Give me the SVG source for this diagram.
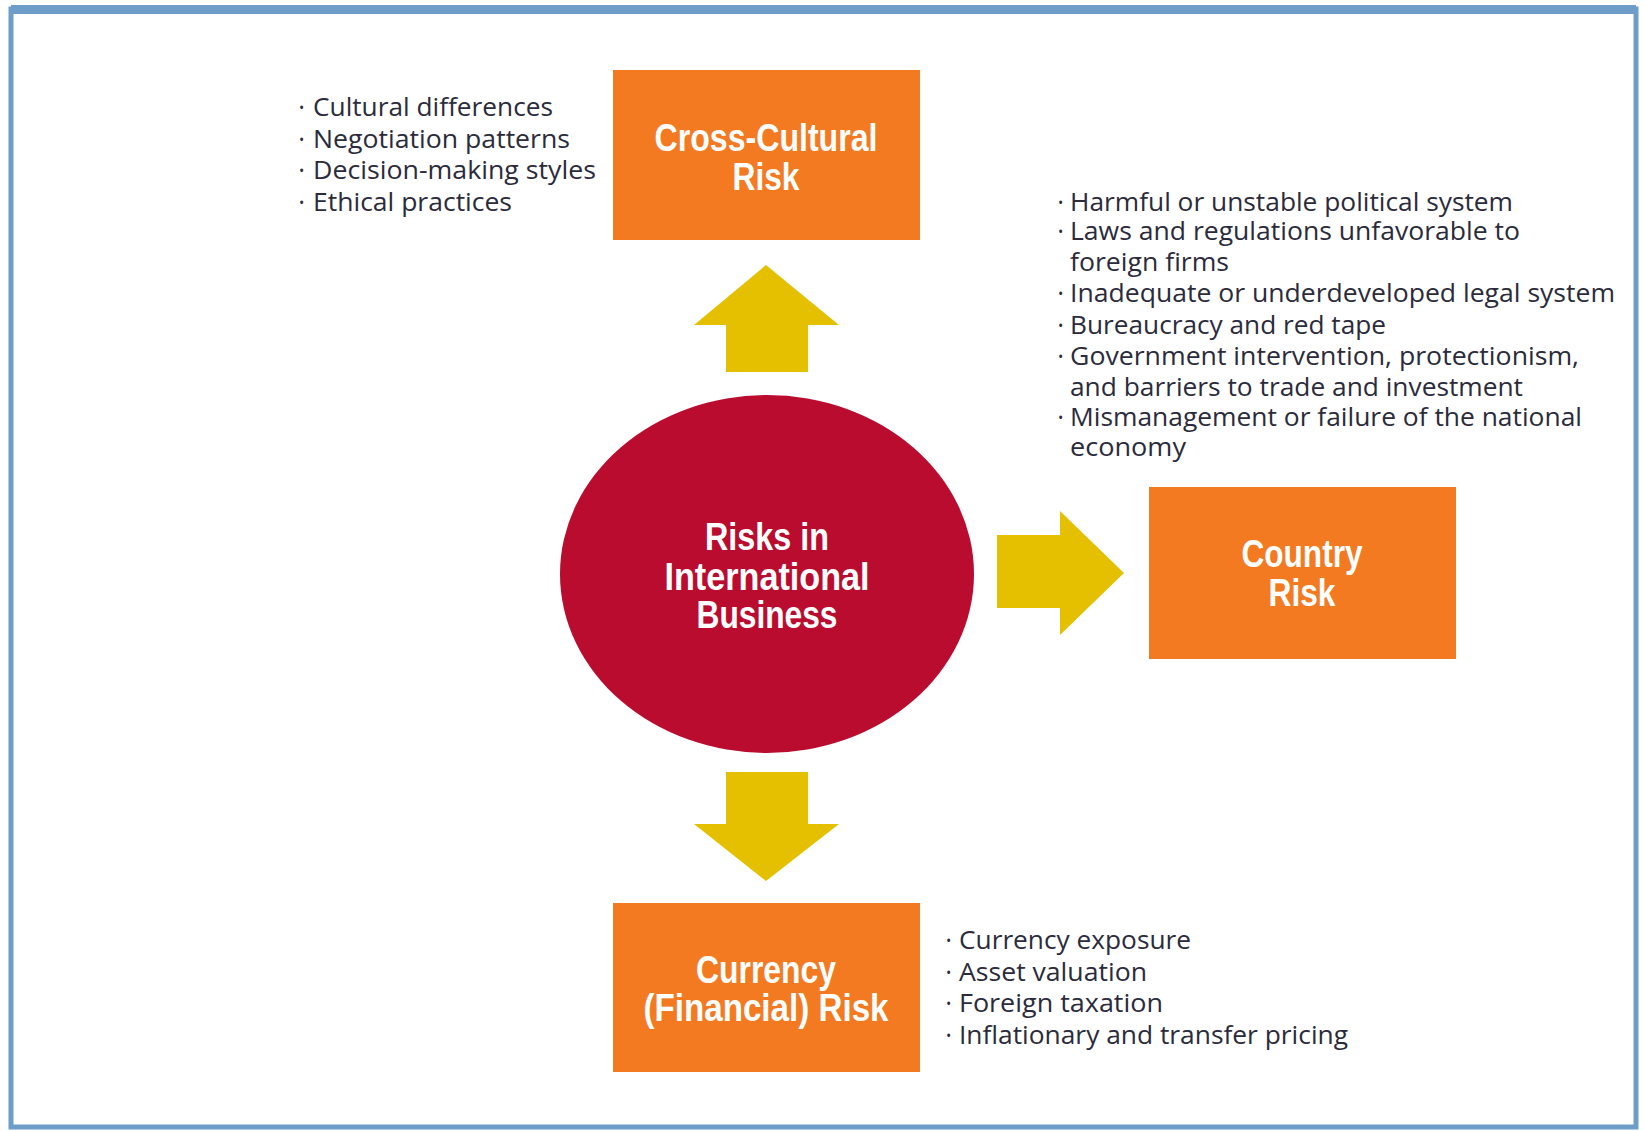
<svg xmlns="http://www.w3.org/2000/svg" width="1645" height="1131" viewBox="0 0 1645 1131">
<style>
.box{fill:#f37a21}
.arrow{fill:#e4c000}
.title{font-family:"Liberation Sans",Arial,sans-serif;font-weight:bold;font-size:38px;fill:#ffffff;text-anchor:middle}
.item{font-family:"Open Sans","Noto Sans",sans-serif;font-size:25px;fill:#2b2b3b}
.bul{font-family:"Open Sans","Noto Sans",sans-serif;font-size:14px;fill:#2b2b3b}
</style>
<rect x="0" y="0" width="1645" height="1131" fill="#ffffff"/>
<rect x="11" y="9" width="1625" height="1118" fill="none" stroke="#6f9dc9" stroke-width="5"/>
<rect x="11" y="5" width="1625" height="9" fill="#6f9dc9"/>
<g id="connectors">
<polygon class="arrow" points="726,372 726,325 694,325 766,265 839,325 808,325 808,372"/>
<polygon class="arrow" points="997,535 1060,535 1060,511 1124,573 1060,635 1060,608 997,608"/>
<polygon class="arrow" points="726,772 808,772 808,824 839,824 766,881 694,824 726,824"/>
</g>
<g id="center">
<ellipse cx="767" cy="574" rx="207" ry="179" fill="#ba0c2f"/>
<text class="title" x="767" y="550" textLength="124" lengthAdjust="spacingAndGlyphs">Risks in</text>
<text class="title" x="767" y="590" textLength="205" lengthAdjust="spacingAndGlyphs">International</text>
<text class="title" x="767" y="628" textLength="141" lengthAdjust="spacingAndGlyphs">Business</text>
</g>
<g id="cross-cultural">
<rect class="box" x="613" y="70" width="307" height="170"/>
<text class="title" x="766" y="151" textLength="223" lengthAdjust="spacingAndGlyphs">Cross-Cultural</text>
<text class="title" x="766" y="190" textLength="67" lengthAdjust="spacingAndGlyphs">Risk</text>
</g>
<g id="cross-cultural-list">
<text class="bul" x="299" y="113">•</text><text class="item" x="313" y="116" textLength="240" lengthAdjust="spacingAndGlyphs">Cultural differences</text>
<text class="bul" x="299" y="145">•</text><text class="item" x="313" y="148" textLength="257" lengthAdjust="spacingAndGlyphs">Negotiation patterns</text>
<text class="bul" x="299" y="176">•</text><text class="item" x="313" y="179" textLength="283" lengthAdjust="spacingAndGlyphs">Decision-making styles</text>
<text class="bul" x="299" y="208">•</text><text class="item" x="313" y="211" textLength="199" lengthAdjust="spacingAndGlyphs">Ethical practices</text>
</g>
<g id="country">
<rect class="box" x="1149" y="487" width="307" height="172"/>
<text class="title" x="1302" y="567" textLength="121" lengthAdjust="spacingAndGlyphs">Country</text>
<text class="title" x="1302" y="606" textLength="67" lengthAdjust="spacingAndGlyphs">Risk</text>
</g>
<g id="country-list">
<text class="bul" x="1058" y="208">•</text><text class="item" x="1070" y="211" textLength="443" lengthAdjust="spacingAndGlyphs">Harmful or unstable political system</text>
<text class="bul" x="1058" y="237">•</text><text class="item" x="1070" y="240" textLength="450" lengthAdjust="spacingAndGlyphs">Laws and regulations unfavorable to</text>
<text class="item" x="1070" y="271" textLength="159" lengthAdjust="spacingAndGlyphs">foreign firms</text>
<text class="bul" x="1058" y="299">•</text><text class="item" x="1070" y="302" textLength="545" lengthAdjust="spacingAndGlyphs">Inadequate or underdeveloped legal system</text>
<text class="bul" x="1058" y="331">•</text><text class="item" x="1070" y="334" textLength="316" lengthAdjust="spacingAndGlyphs">Bureaucracy and red tape</text>
<text class="bul" x="1058" y="362">•</text><text class="item" x="1070" y="365" textLength="509" lengthAdjust="spacingAndGlyphs">Government intervention, protectionism,</text>
<text class="item" x="1070" y="396" textLength="453" lengthAdjust="spacingAndGlyphs">and barriers to trade and investment</text>
<text class="bul" x="1058" y="423">•</text><text class="item" x="1070" y="426" textLength="512" lengthAdjust="spacingAndGlyphs">Mismanagement or failure of the national</text>
<text class="item" x="1070" y="456" textLength="116" lengthAdjust="spacingAndGlyphs">economy</text>
</g>
<g id="currency">
<rect class="box" x="613" y="903" width="307" height="169"/>
<text class="title" x="766" y="983" textLength="140" lengthAdjust="spacingAndGlyphs">Currency</text>
<text class="title" x="766" y="1021" textLength="245" lengthAdjust="spacingAndGlyphs">(Financial) Risk</text>
</g>
<g id="currency-list">
<text class="bul" x="946" y="946">•</text><text class="item" x="959" y="949" textLength="232" lengthAdjust="spacingAndGlyphs">Currency exposure</text>
<text class="bul" x="946" y="978">•</text><text class="item" x="959" y="981" textLength="188" lengthAdjust="spacingAndGlyphs">Asset valuation</text>
<text class="bul" x="946" y="1009">•</text><text class="item" x="959" y="1012" textLength="204" lengthAdjust="spacingAndGlyphs">Foreign taxation</text>
<text class="bul" x="946" y="1041">•</text><text class="item" x="959" y="1044" textLength="389" lengthAdjust="spacingAndGlyphs">Inflationary and transfer pricing</text>
</g>
</svg>
